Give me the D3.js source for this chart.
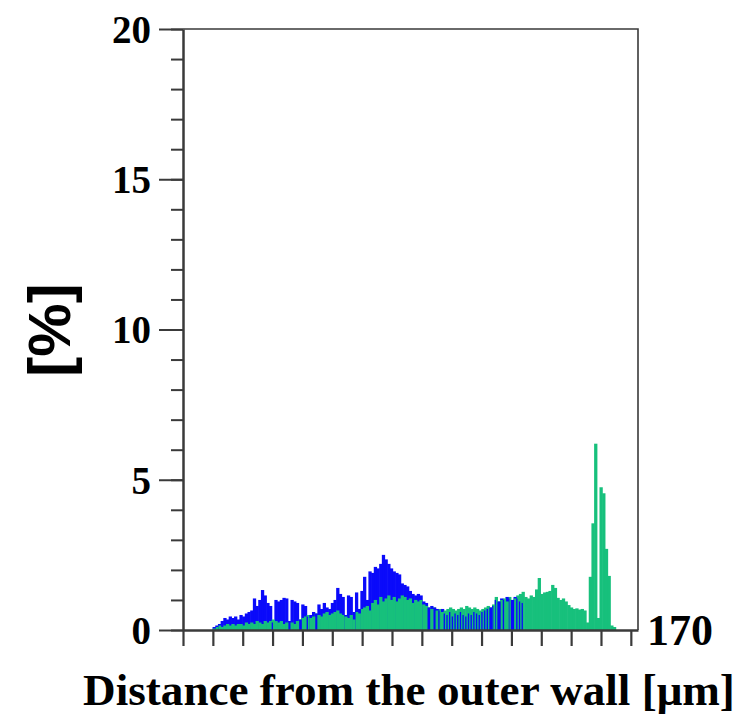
<!DOCTYPE html>
<html>
<head>
<meta charset="utf-8">
<script src="https://cdn.jsdelivr.net/npm/d3@7"></script>
<style>
  body { margin: 0; background: #fff; }
  .axis path, .axis line { stroke: #3a3a3a; }
  .axis text { font-family: "Liberation Serif", "Times New Roman", serif; font-weight: bold; fill: #000; }
</style>
</head>
<body>
<div id="graph"></div>
<script>

// histogram bins, distance from outer wall [µm]
const binStart = 9.9,
      binWidth = 0.9;

// [%] per bin, blue series
const blueValues = [
  0.1, 0.15, 0.2, 0.3, 0.4, 0.35, 0.45, 0.4, 0.45, 0.35,
  0.5, 0.45, 0.55, 0.6, 0.65, 1.05, 0.8, 1.0, 1.33, 1.15,
  0.9, 0.8, 0.25, 1.0, 0.95, 1.0, 1.07, 1.05, 0.3, 1.0,
  0.95, 0.9, 0.35, 0.85, 0.8, 0.45, 0.5, 0.6, 0.55, 0.85,
  0.7, 0.9, 0.75, 0.7, 0.9, 1.0, 1.4, 1.2, 1.1, 0.5,
  1.15, 1.1, 0.6, 1.25, 0.7, 1.3, 1.77, 1.0, 1.95, 1.9,
  2.1, 2.05, 2.2, 2.5, 2.35, 2.2, 2.05, 1.95, 1.9, 1.85,
  1.55, 1.5, 1.45, 1.3, 1.2, 1.15, 1.2, 1.15, 0.95, 0.9,
  0.75, 0.8, 0.75, 0.7, 0.65, 0.7, 0.55, 0.5, 0.6, 0.45,
  0.55, 0.5, 0.6, 0.5, 0.45, 0.55, 0.5, 0.6, 0.55, 0.5,
  0.6, 0.65, 0.7, 0.75, 0.8, 1.0, 0.95, 1.05, 1.0, 1.1,
  1.05, 1.0, 1.1, 1.05, 0.95, 0.9
];

// [%] per bin, green series
const greenValues = [
  0.05, 0.1, 0.15, 0.1, 0.15, 0.2, 0.15, 0.2, 0.15, 0.2,
  0.2, 0.15, 0.25, 0.2, 0.25, 0.2, 0.3, 0.25, 0.2, 0.3,
  0.25, 0.3, 0.35, 0.3, 0.25, 0.3, 0.2, 0.25, 0.3, 0.25,
  0.2, 0.3, 0.35, 0.4, 0.45, 0.5, 0.4, 0.45, 0.55, 0.5,
  0.45, 0.55, 0.6, 0.5, 0.55, 0.6, 0.65, 0.55, 0.5, 0.45,
  0.4, 0.5, 0.35, 0.6, 0.55, 0.7, 0.75, 0.8, 0.65, 0.9,
  1.0, 0.85, 1.1, 0.95, 1.05, 1.15, 1.0, 1.1, 0.95, 1.05,
  1.15, 1.1, 1.0, 1.05, 0.9, 1.0, 0.95, 1.0, 0.85, 0.8,
  0.75, 0.7, 0.75, 0.65, 0.7, 0.6, 0.65, 0.7, 0.75, 0.7,
  0.65, 0.7, 0.75, 0.7, 0.8, 0.75, 0.7, 0.75, 0.7, 0.65,
  0.7, 0.75, 0.8, 0.75, 0.85, 1.1, 0.95, 1.0, 1.05, 0.95,
  1.1, 1.0, 1.05, 1.15, 1.2, 1.27, 1.1, 1.05, 1.15, 1.1,
  1.35, 1.73, 1.2, 1.25, 1.27, 1.3, 1.5, 1.4, 1.07, 1.0,
  1.05, 0.95, 0.83, 0.75, 0.7, 0.72, 0.68, 0.7, 0.65, 0.25,
  1.77, 3.55, 6.2, 0.4, 4.75, 4.55, 2.7, 1.8, 0.15, 0.1
];

const yMajorTicks = [0, 5, 10, 15, 20],
      yMinorTicks = d3.range(0, 21, 1),
      xTicks = d3.range(0, 151, 10),
      xEndLabel = "170",
      xTitle = "Distance from the outer wall [\u03bcm]",
      yTitle = "[%]";

const colors = { blue: "#0a0afa", green: "#17c07c" };

let margin = {left: 183, top: 29, right: 103, bottom: 86},
    width = 741, height = 716;

let svg = d3.select("#graph")
      .append("svg")
      .attr("width", width)
      .attr("height", height);

let x = d3.scaleLinear().domain([0, 152.4]).range([margin.left, width - margin.right]),
    y = d3.scaleLinear().domain([0, 20]).range([height - margin.bottom, margin.top]);

// combine both series, tallest first so the shorter bar of each bin sits in front
let bars = [];
greenValues.forEach(function(v, i) { bars.push({i: i, series: "green", value: v, front: v < (blueValues[i] || 0)}); });
blueValues.forEach(function(v, i) { bars.push({i: i, series: "blue", value: v, front: v < greenValues[i]}); });
bars.sort(function(a, b) { return b.value - a.value; });

let step = x(binStart + binWidth) - x(binStart);

// a blue bar in front of a taller green one is drawn as a thin line,
// the others get a little overlap so no seams show between bins
function barWidth(d) { return (d.series === "blue" && d.front) ? step * 0.5 : step + 0.6; }

svg.append("g")
      .selectAll("rect")
      .data(bars)
      .enter().append("rect")
      .attr("x", function(d) { return x(binStart + d.i * binWidth); })
      .attr("width", barWidth)
      .attr("y", function(d) { return y(d.value); })
      .attr("height", function(d) { return y(0) - y(d.value); })
      .attr("fill", function(d) { return colors[d.series]; });

// frame top and right
svg.append("path")
      .attr("d", "M" + x(0) + "," + y(20) + "H" + x.range()[1] + "V" + y(0))
      .attr("fill", "none")
      .attr("stroke", "#3a3a3a")
      .attr("stroke-width", 1.6);

// y axis, minor then major
svg.append("g")
      .attr("class", "axis")
      .attr("transform", "translate(" + x(0) + ",0)")
      .call(d3.axisLeft(y).tickValues(yMinorTicks).tickSize(12).tickSizeOuter(0).tickFormat(""))
      .call(function(g) { g.selectAll("line").attr("stroke-width", 2); g.select(".domain").attr("stroke-width", 2.5); });

svg.append("g")
      .attr("class", "axis")
      .attr("transform", "translate(" + x(0) + ",0)")
      .call(d3.axisLeft(y).tickValues(yMajorTicks).tickSize(24).tickSizeOuter(0).tickPadding(8))
      .call(function(g) {
        g.select(".domain").remove();
        g.selectAll("line").attr("stroke-width", 2);
        g.selectAll("text").style("font-size", "39px").attr("dy", "0.34em");
      });

// x axis
svg.append("g")
      .attr("class", "axis")
      .attr("transform", "translate(0," + y(0) + ")")
      .call(d3.axisBottom(x).tickValues(xTicks).tickSize(16).tickSizeOuter(0).tickFormat(""))
      .call(function(g) {
        g.selectAll("line").attr("stroke-width", 2.2);
        g.select(".domain").attr("stroke-width", 2.5);
      });

svg.append("text")
      .attr("x", x.range()[1] + 9)
      .attr("y", y(0))
      .attr("dy", "0.35em")
      .style("font-family", "'Liberation Serif', serif")
      .style("font-weight", "bold")
      .style("font-size", "44px")
      .text(xEndLabel);

let xt = svg.append("text")
      .attr("x", 409)
      .attr("y", 705)
      .attr("text-anchor", "middle")
      .style("font-family", "'Liberation Serif', serif")
      .style("font-weight", "bold")
      .style("font-size", "36px")
      .text(xTitle);

// fit the title to the width it takes in the figure
let len = xt.node().getComputedTextLength();
xt.style("font-size", (36 * 652 / len) + "px");

svg.append("text")
      .attr("transform", "translate(70,330) rotate(-90)")
      .attr("text-anchor", "middle")
      .style("font-family", "'Liberation Sans', Arial, sans-serif")
      .style("font-weight", "bold")
      .style("font-size", "60px")
      .text(yTitle);

</script>
</body>
</html>
